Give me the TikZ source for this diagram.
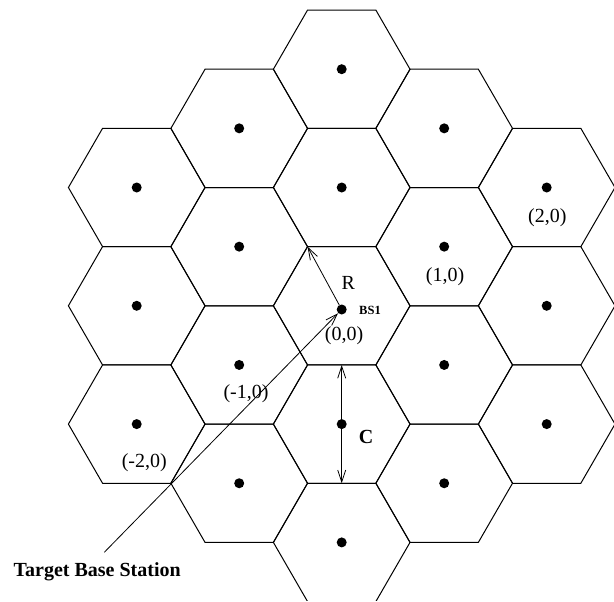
\documentclass[tikz,border=0pt]{standalone}
\usepackage{fontspec}
\setmainfont{Liberation Serif}
\usetikzlibrary{arrows.meta}
\begin{document}
\begin{tikzpicture}[x=1pt,y=-1pt,
  hexline/.style={line width=1pt, line join=miter},
  dot/.style={circle, fill, inner sep=0pt, minimum size=10pt},
  lbl/.style={font=\fontsize{20}{24}\selectfont, inner sep=0pt},
  blbl/.style={font=\fontsize{20}{24}\selectfont\bfseries, inner sep=0pt},
  slbl/.style={font=\fontsize{12.5}{14}\selectfont\bfseries, inner sep=0pt},
  barb/.tip={Straight Barb[length=12pt,width=8pt]},
  arr/.style={line width=0.8pt, -barb},
  dblarr/.style={line width=0.8pt, barb-barb},
]
\useasboundingbox (0,0) rectangle (614,602);
\begin{scope}
\clip (0,0) rectangle (614,600);
\foreach \k/\ystart/\cnt in {-2/187.5/3, -1/128.35/4, 0/69.2/5, 1/128.35/4, 2/187.5/3} {
  \foreach \j in {1,...,\cnt} {
    \pgfmathsetmacro\cx{341.7+\k*102.5}
    \pgfmathsetmacro\cy{\ystart+(\j-1)*118.3}
    \draw[hexline] (\cx-68.3,\cy) -- (\cx-34.15,\cy-59.15) -- (\cx+34.15,\cy-59.15)
      -- (\cx+68.3,\cy) -- (\cx+34.15,\cy+59.15) -- (\cx-34.15,\cy+59.15) -- cycle;
    \pgfmathtruncatemacro\isbs{and(\k==0,\j==3)}
    \ifnum\isbs=0
      \node[dot] (d\k\j) at (\cx,\cy) {};
    \fi
  }
}
\end{scope}
\node[dot] (bs1) at (341.7,309.5) {};
\coordinate (rv) at (307.55,246.65);
\coordinate (ctop) at (341.7,365);
\coordinate (cbot) at (341.7,483.3);
\coordinate (tail) at (104.3,552.3);
\draw[arr] (bs1) -- (rv);
\draw[dblarr] (ctop) -- (cbot);
\draw[arr] (tail) -- (bs1);
\node[lbl] (lR) at (348.3,283.3) {R};
\node[slbl] (lbs) at (370,310.7) {BS1};
\node[lbl] (l00) at (344,335.7) {(0,0)};
\node[lbl] (l10) at (445,276.7) {(1,0)};
\node[lbl] (l20) at (547.3,217.3) {(2,0)};
\node[lbl] (lm10) at (246,394) {(-1,0)};
\node[lbl] (lm20) at (144.3,462.7) {(-2,0)};
\node[blbl] (lC) at (366,437.3) {C};
\node[blbl] (ltbs) at (97.2,571.7) {Target Base Station};
\end{tikzpicture}
\end{document}
